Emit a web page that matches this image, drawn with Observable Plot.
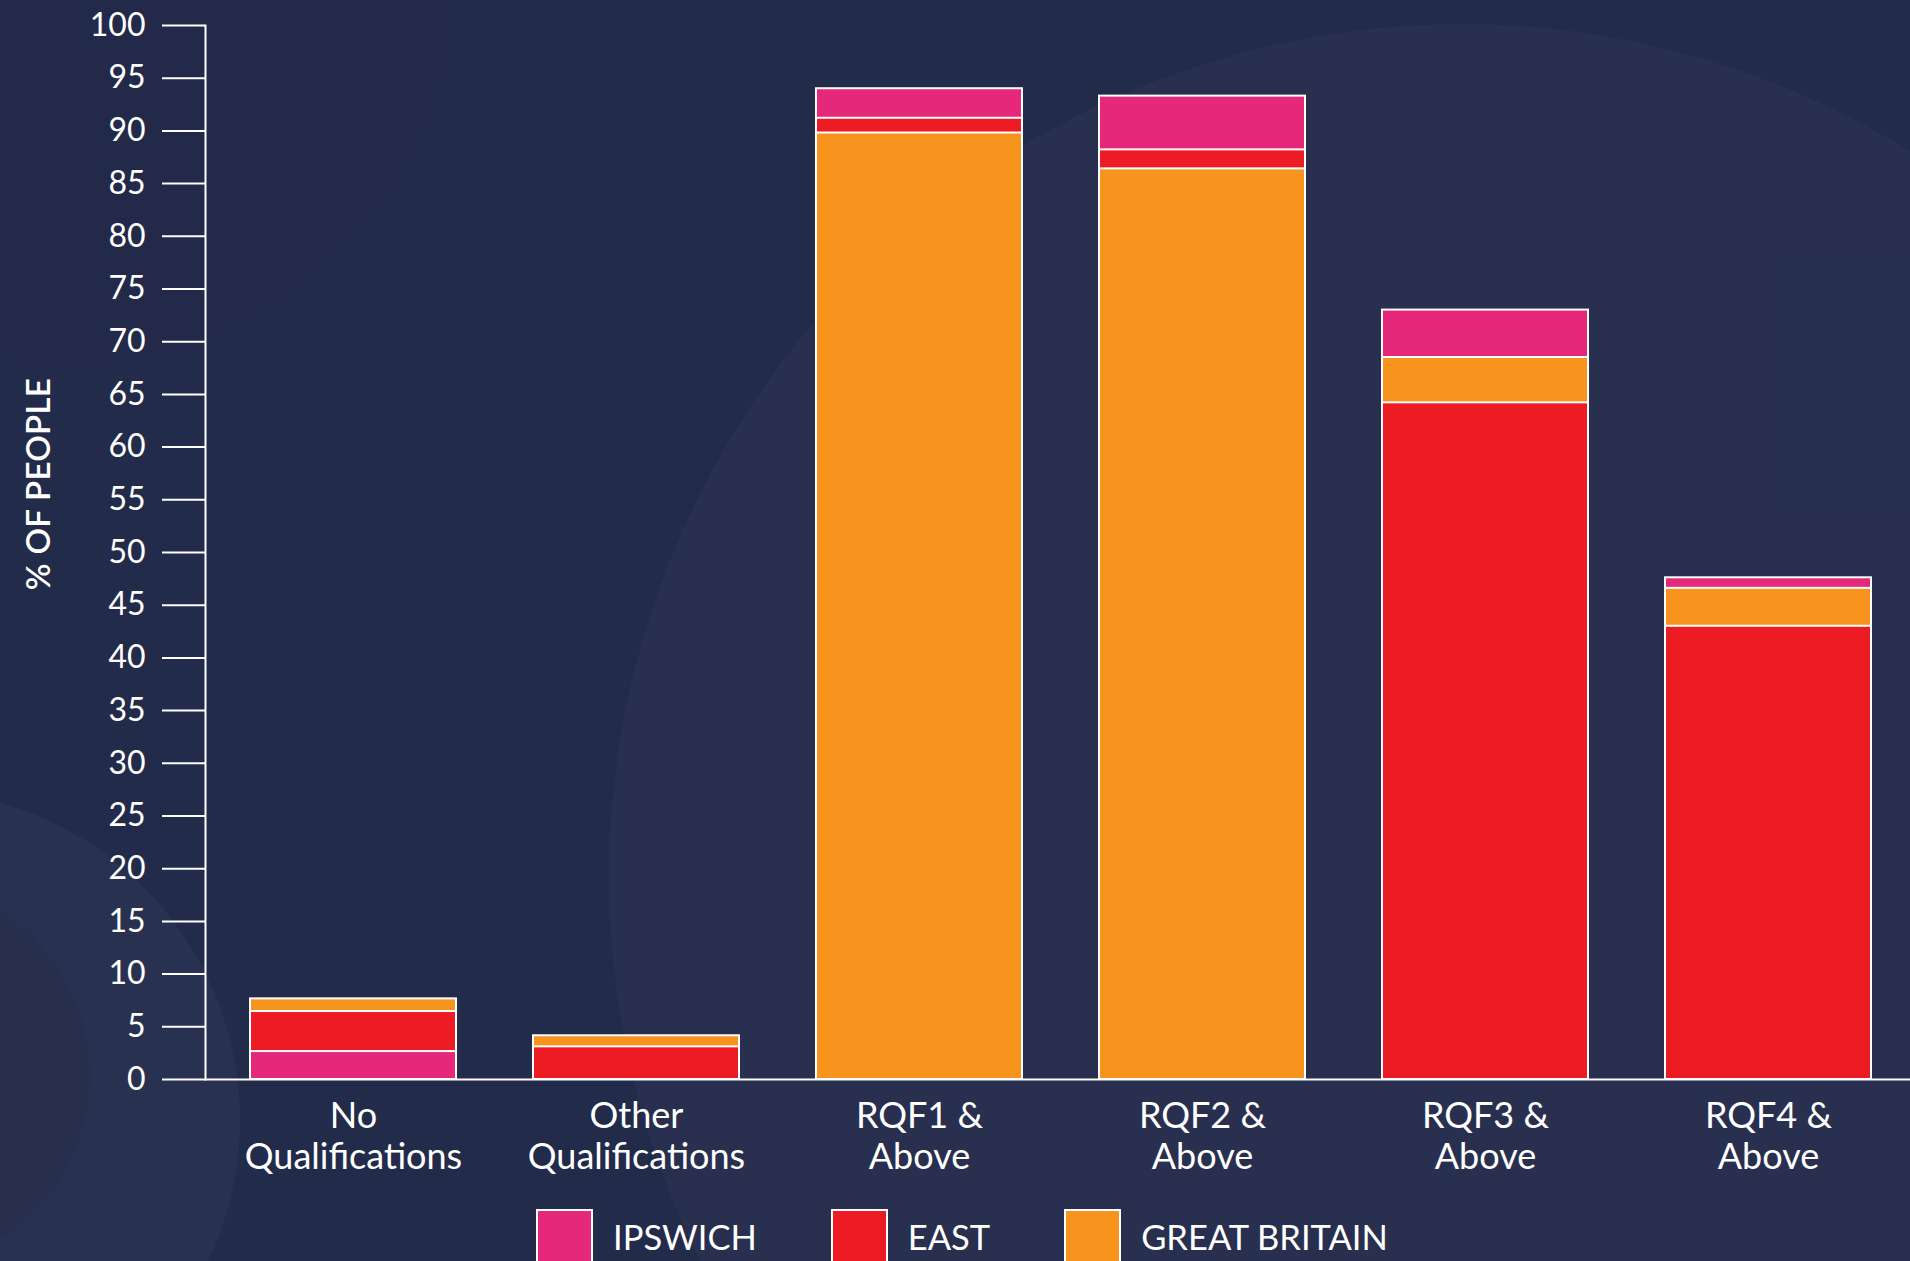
<!DOCTYPE html>
<html>
<head>
<meta charset="utf-8">
<script src="https://cdn.jsdelivr.net/npm/d3@7"></script>
<script src="https://cdn.jsdelivr.net/npm/@observablehq/plot@0.6"></script>
<style>
  html, body { margin: 0; padding: 0; }
  body {
    width: 1910px; height: 1261px; overflow: hidden; position: relative;
    background: #232b4b; font-family: Lato, "Open Sans", sans-serif; color: #fff;
  }
  .bg { position: absolute; border-radius: 50%; pointer-events: none; }
  #chart { position: absolute; left: 0; top: 0; }
  #ytitle {
    position: absolute; left: 37px; top: 484px; font-size: 33px; font-weight: 600; white-space: nowrap;
    transform: translate(-50%, -50%) rotate(-90deg); letter-spacing: 0.3px;
  }
  #legend { position: absolute; left: 536px; top: 1209px; display: flex; align-items: flex-start; }
  .item { display: flex; align-items: flex-start; margin-right: 74px; }
  .sw { width: 53px; height: 70px; border: 2px solid #fff; margin-right: 20px; }
  .lab { font-size: 34.5px; line-height: 56px; white-space: nowrap; }
</style>
</head>
<body>
<div class="bg" style="left:609px;top:24px;width:1706px;height:1706px;background:rgba(255,255,255,0.025);"></div>
<div class="bg" style="left:-330px;top:-420px;width:790px;height:790px;background:rgba(0,0,0,0.025);"></div>
<div class="bg" style="left:-420px;top:790px;width:660px;height:660px;background:rgba(255,255,255,0.03);"></div>
<div class="bg" style="left:-300px;top:880px;width:390px;height:390px;background:rgba(0,0,0,0.04);"></div>
<div id="chart"></div>
<div id="ytitle">% OF PEOPLE</div>
<div id="legend"></div>
<script>
const categories = ["No\nQualifications", "Other\nQualifications", "RQF1 &\nAbove", "RQF2 &\nAbove", "RQF3 &\nAbove", "RQF4 &\nAbove"];
const areas = ["IPSWICH", "EAST", "GREAT BRITAIN"];
const ipswich = [2.65, null, 94.0, 93.3, 73.0, 47.6];
const east = [6.45, 3.1, 91.2, 88.2, 64.2, 43.0];
const greatBritain = [7.65, 4.15, 89.8, 86.4, 68.5, 46.6];
const colors = ["#E5287A", "#ED1C24", "#F7941E"];
const yTicks = d3.range(0, 101, 5);

const series = [ipswich, east, greatBritain];
const rows = [];
categories.forEach((c, i) => {
  areas.forEach((a, j) => {
    const v = series[j][i];
    if (v != null) rows.push({category: c, area: a, value: v});
  });
});
// overlapping bars: larger values drawn first (behind)
rows.sort((a, b) => b.value - a.value);

const chart = Plot.plot({
  width: 1910,
  height: 1195,
  marginLeft: 205,
  marginRight: 0,
  marginTop: 25,
  marginBottom: 116,
  style: {background: "transparent", color: "white", fontFamily: "Lato, 'Open Sans', sans-serif", overflow: "visible"},
  x: {domain: categories, paddingInner: 0.272, paddingOuter: 0.138, align: 0.54, label: null},
  y: {domain: [0, 100], label: null},
  color: {domain: areas, range: colors},
  marks: [
    Plot.barY(rows, {x: "category", y1: 0, y2: "value", fill: "area", stroke: "white", strokeWidth: 2}),
    Plot.ruleY([0], {stroke: "white", strokeWidth: 2}),
    Plot.frame({anchor: "left", stroke: "white", strokeWidth: 2}),
    Plot.axisY({ticks: yTicks, tickSize: 43, tickPadding: 17, fontSize: 32, stroke: "white", strokeWidth: 2, label: null, fill: "white"}),
    Plot.axisX({tickSize: 0, tickPadding: 18.5, fontSize: 36, lineHeight: 1.16, label: null, fill: "white"})
  ]
});
document.getElementById("chart").appendChild(chart);

const legend = document.getElementById("legend");
areas.forEach((a, i) => {
  const item = document.createElement("div");
  item.className = "item";
  const sw = document.createElement("div");
  sw.className = "sw";
  sw.style.background = colors[i];
  const lab = document.createElement("div");
  lab.className = "lab";
  lab.textContent = a;
  item.appendChild(sw);
  item.appendChild(lab);
  legend.appendChild(item);
});
</script>
</body>
</html>
